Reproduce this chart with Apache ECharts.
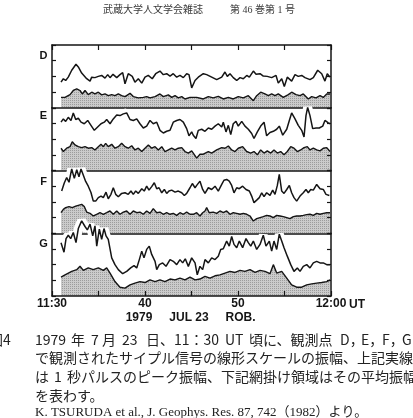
<!DOCTYPE html>
<html><head><meta charset="utf-8">
<script src="https://cdn.jsdelivr.net/npm/echarts@6/dist/echarts.min.js"></script>
<style>html,body{margin:0;padding:0;background:#fff;}#c{width:413px;height:418px;}</style>
</head><body><div id="c"></div>
<script>
// ---- data (time in minutes after 11:30 UT, amplitude in panel units 0-4) ----
const stations = ['D','E','F','G'];
const timeTicks = ['11:30','','40','','50','','12:00'];

const D_peak = [[0.97,1.63],[1.22,1.85],[1.47,1.74],[1.75,1.95],[2.12,2.39],[2.58,2.77],[2.83,2.60],[3.19,2.21],[3.73,1.85],[4.09,1.70],[4.27,1.95],[4.62,1.92],[4.98,2.00],[5.34,2.06],[5.70,1.89],[5.99,2.11],[6.24,1.92],[6.56,2.13],[6.96,1.92],[7.31,2.11],[7.60,2.24],[7.85,1.53],[8.20,2.17],[8.63,2.00],[8.92,1.63],[9.28,1.85],[9.65,1.57],[10.00,1.95],[10.35,2.06],[10.78,1.85],[11.15,2.17],[11.61,2.34],[11.97,2.11],[12.33,2.17],[12.69,2.02],[13.04,2.17],[13.41,1.95],[13.76,2.06],[14.12,1.92],[14.48,2.17],[14.73,2.11],[15.02,1.27],[15.38,1.74],[15.73,1.95],[16.27,2.17],[16.63,2.11],[17.17,1.95],[17.71,1.79],[18.25,1.95],[18.60,2.28],[18.85,2.00],[19.14,2.17],[19.49,1.92],[19.86,1.74],[20.22,1.92],[20.57,1.85],[20.94,2.06],[21.22,1.95],[21.65,2.34],[21.94,2.13],[22.37,2.17],[22.72,2.02],[23.15,2.00],[23.62,1.92],[24.09,2.06],[24.33,1.57],[24.70,1.85],[24.98,1.35],[25.30,1.95],[25.77,1.70],[26.13,2.11],[26.48,2.00],[26.85,2.06],[27.20,1.92],[27.74,1.79],[28.10,1.92],[28.57,2.39],[29.00,2.17],[29.35,1.70],[29.60,2.17],[29.89,1.95]];
const D_mean = [[0.97,0.66],[1.40,0.66],[1.94,0.84],[2.29,1.10],[2.66,1.21],[3.01,1.10],[3.26,0.88],[3.55,1.10],[3.90,0.84],[4.27,0.99],[4.62,0.88],[4.98,0.99],[5.34,0.82],[5.70,0.88],[6.05,0.77],[6.42,0.84],[6.77,0.77],[7.13,0.88],[7.49,0.77],[7.85,0.71],[8.39,0.92],[8.74,0.71],[9.28,0.63],[9.82,0.66],[10.18,0.71],[10.54,0.63],[11.08,0.71],[11.61,0.88],[11.97,0.71],[12.51,0.82],[12.87,0.66],[13.23,0.77],[13.58,0.63],[13.95,0.71],[14.30,0.56],[14.84,0.66],[15.56,0.66],[16.27,0.56],[16.81,0.71],[17.34,0.63],[17.88,0.73],[18.42,0.56],[18.96,0.66],[19.49,0.56],[20.03,0.71],[20.57,0.63],[21.11,0.77],[21.65,0.45],[22.01,0.77],[22.44,0.99],[22.90,0.88],[23.26,0.77],[23.62,0.88],[23.98,0.77],[24.33,0.88],[24.87,0.66],[25.41,0.84],[25.77,0.99],[26.24,0.84],[26.67,0.77],[27.02,0.88],[27.56,0.56],[27.92,0.71],[28.39,0.63],[28.82,0.77],[29.17,0.66],[29.54,0.88],[29.89,0.88]];

const E_peak = [[0.97,3.08],[1.22,3.29],[1.47,3.13],[1.75,3.39],[2.04,3.19],[2.29,3.67],[2.55,3.25],[2.83,3.33],[3.12,3.08],[3.47,2.98],[3.84,3.19],[4.19,2.88],[4.55,2.56],[4.91,2.77],[5.27,2.98],[5.62,3.08],[5.88,3.25],[6.24,2.98],[6.59,3.29],[6.96,3.54],[7.31,3.50],[7.67,3.61],[8.03,3.67],[8.39,3.25],[8.74,3.19],[9.11,3.29],[9.46,2.98],[9.82,2.71],[10.18,2.83],[10.54,3.19],[10.89,2.98],[11.26,3.08],[11.61,2.56],[11.97,2.39],[12.33,2.50],[12.69,2.56],[13.04,3.08],[13.41,3.19],[13.76,3.25],[14.12,3.08],[14.48,2.67],[14.73,2.21],[15.02,2.46],[15.19,2.25],[15.48,2.04],[15.73,2.56],[16.10,2.63],[16.45,2.50],[16.81,2.71],[17.17,2.63],[17.53,2.83],[17.88,2.98],[18.25,2.77],[18.42,3.08],[18.71,2.46],[18.96,2.88],[19.22,2.29],[19.49,2.98],[19.78,3.13],[20.03,2.83],[20.40,3.13],[20.75,2.83],[21.11,2.63],[21.47,2.36],[21.72,2.04],[22.08,2.46],[22.44,2.83],[22.80,3.08],[23.08,2.21],[23.44,2.42],[23.80,2.50],[24.16,2.63],[24.44,2.83],[24.81,2.25],[25.24,2.63],[25.52,3.19],[25.77,3.67],[26.13,3.29],[26.48,2.88],[26.85,2.56],[27.10,2.14],[27.31,3.50],[27.49,4.02],[27.74,3.50],[28.03,2.67],[28.39,2.71],[28.74,2.71],[29.11,2.83],[29.35,3.19],[29.71,3.04],[29.89,2.98]];
const E_mean = [[0.97,1.42],[1.22,1.21],[1.58,1.42],[1.94,1.52],[2.18,1.83],[2.47,1.63],[2.83,1.52],[3.19,1.46],[3.55,1.52],[3.90,1.42],[4.27,1.46],[4.62,1.31],[4.98,1.52],[5.27,1.67],[5.52,1.52],[5.77,1.73],[6.05,1.52],[6.42,1.67],[6.77,1.42],[7.13,1.52],[7.49,1.73],[7.85,1.52],[8.20,1.42],[8.57,1.58],[8.92,1.31],[9.28,1.42],[9.65,1.21],[10.00,1.42],[10.36,1.63],[10.72,1.42],[11.08,1.52],[11.43,1.31],[11.80,1.52],[12.15,1.21],[12.51,1.31],[12.87,1.42],[13.23,1.31],[13.58,1.42],[13.95,1.46],[14.30,1.21],[14.66,1.11],[15.02,1.25],[15.19,1.11],[15.56,0.79],[15.91,1.04],[16.27,1.04],[16.81,1.21],[17.17,1.11],[17.71,1.31],[18.25,1.46],[18.60,1.42],[18.96,1.56],[19.32,1.31],[19.68,1.21],[20.03,1.42],[20.50,1.52],[20.93,1.21],[21.36,1.11],[21.72,1.21],[22.08,1.00],[22.44,1.31],[22.80,1.11],[23.15,1.25],[23.52,1.11],[23.87,1.31],[24.23,1.11],[24.59,1.21],[24.95,1.00],[25.30,1.21],[25.67,1.52],[26.02,1.42],[26.38,1.21],[26.74,1.31],[27.10,1.46],[27.45,1.52],[27.74,1.31],[28.10,1.42],[28.46,1.31],[28.82,1.25],[29.17,1.42],[29.54,1.46],[29.89,1.21]];

const F_peak = [[1.04,2.70],[1.32,3.20],[1.58,3.55],[1.83,3.25],[2.12,4.10],[2.40,3.50],[2.66,4.05],[2.90,3.60],[3.12,4.10],[3.37,3.70],[3.62,3.30],[3.90,3.00],[4.19,2.60],[4.44,2.05],[4.70,2.05],[4.98,2.27],[5.27,2.37],[5.52,2.27],[5.81,2.62],[6.05,2.20],[6.34,2.48],[6.59,2.90],[6.85,2.48],[7.13,2.33],[7.49,2.54],[7.85,2.58],[8.20,2.48],[8.49,2.69],[8.74,2.48],[9.00,2.69],[9.28,2.54],[9.65,2.84],[9.92,2.69],[10.18,3.00],[10.43,2.75],[10.72,2.97],[11.00,3.22],[11.26,2.84],[11.51,2.90],[11.80,2.58],[12.08,2.79],[12.33,2.54],[12.58,2.69],[12.87,2.75],[13.23,2.62],[13.58,2.69],[13.95,2.58],[14.23,2.41],[14.48,2.54],[14.84,2.90],[15.09,3.17],[15.38,2.90],[15.56,3.05],[15.91,3.32],[16.20,2.79],[16.45,2.54],[16.81,2.90],[17.17,2.79],[17.53,3.00],[17.88,2.69],[18.25,3.11],[18.49,3.38],[18.78,3.43],[19.06,3.32],[19.32,3.05],[19.57,2.58],[19.86,2.90],[20.14,2.84],[20.50,3.00],[20.86,2.79],[21.22,2.69],[21.47,2.37],[21.72,1.95],[22.01,2.11],[22.29,2.27],[22.55,2.58],[22.80,2.33],[23.08,2.58],[23.44,2.41],[23.73,2.75],[23.98,2.48],[24.23,3.05],[24.44,3.75],[24.70,2.69],[24.95,2.54],[25.24,2.79],[25.52,3.05],[25.77,2.58],[26.02,2.27],[26.31,2.05],[26.67,2.37],[27.02,2.58],[27.31,2.79],[27.56,2.58],[27.82,2.79],[28.10,2.75],[28.46,3.11],[28.82,2.84],[29.17,2.79],[29.46,2.48],[29.82,2.41]];
const F_mean = [[0.97,1.31],[1.22,1.52],[1.47,1.63],[1.83,1.70],[2.18,1.63],[2.55,1.73],[2.83,1.78],[3.19,1.84],[3.47,1.70],[3.73,1.35],[4.09,1.27],[4.44,1.10],[4.81,1.21],[5.16,1.31],[5.52,1.21],[5.88,1.31],[6.24,1.42],[6.59,1.21],[6.96,1.42],[7.31,1.21],[7.67,1.35],[8.03,1.42],[8.39,1.21],[8.74,1.42],[9.11,1.31],[9.46,1.35],[9.82,1.21],[10.18,1.42],[10.54,1.27],[10.89,1.57],[11.26,1.31],[11.61,1.35],[11.97,1.21],[12.33,1.31],[12.69,1.21],[13.04,1.27],[13.41,1.14],[13.76,1.31],[14.12,1.21],[14.48,1.35],[14.84,1.21],[15.19,1.21],[15.56,1.31],[15.91,1.10],[16.20,1.31],[16.45,1.42],[16.63,1.63],[16.91,1.31],[17.34,1.35],[17.71,1.27],[18.06,1.42],[18.42,1.31],[18.78,1.42],[19.14,1.21],[19.49,1.31],[19.86,1.27],[20.22,1.21],[20.57,1.27],[20.94,1.21],[21.29,1.10],[21.65,0.78],[22.01,0.93],[22.37,1.00],[22.72,1.06],[23.08,1.14],[23.44,1.10],[23.80,1.00],[24.16,1.14],[24.52,1.10],[24.87,1.06],[25.24,1.00],[25.59,0.93],[25.95,1.06],[26.31,1.10],[26.67,1.10],[27.02,1.14],[27.38,1.19],[27.74,1.21],[28.10,1.14],[28.46,1.27],[28.82,1.21],[29.17,1.27],[29.54,1.31],[29.89,1.31]];

const G_peak = [[0.97,3.40],[1.29,2.79],[1.51,3.66],[1.75,3.87],[2.01,3.66],[2.29,4.05],[2.58,3.40],[2.83,4.30],[3.19,4.79],[3.55,4.43],[3.80,4.21],[4.09,4.58],[4.38,3.83],[4.62,4.47],[4.81,3.18],[5.09,4.26],[5.34,3.61],[5.59,4.30],[5.81,3.83],[6.05,3.61],[6.42,2.43],[6.77,2.00],[7.13,1.68],[7.60,1.42],[8.03,1.57],[8.46,1.79],[8.82,1.94],[9.11,1.79],[9.39,2.32],[9.65,2.86],[9.89,2.43],[10.18,2.97],[10.46,3.18],[10.72,2.65],[11.08,2.21],[11.26,1.68],[11.54,2.00],[11.90,2.11],[12.26,1.89],[12.69,2.32],[13.04,2.21],[13.41,2.00],[13.76,2.32],[14.05,2.11],[14.33,2.37],[14.66,1.89],[15.02,2.43],[15.38,2.11],[15.62,1.35],[15.91,1.89],[16.20,1.68],[16.45,2.32],[16.81,2.11],[17.17,2.43],[17.53,2.32],[17.88,2.54],[18.14,2.97],[18.42,3.01],[18.78,3.50],[19.06,3.18],[19.32,3.79],[19.57,3.29],[19.86,3.08],[20.14,3.50],[20.50,3.08],[20.86,3.66],[21.11,3.40],[21.37,3.18],[21.65,3.50],[22.01,2.97],[22.37,3.29],[22.72,3.87],[23.01,3.18],[23.37,3.50],[23.62,2.86],[23.87,3.50],[24.16,2.97],[24.44,3.94],[24.70,3.50],[24.95,3.08],[25.30,2.54],[25.67,2.00],[26.02,1.57],[26.38,1.79],[26.67,1.57],[27.02,1.89],[27.39,2.00],[27.74,1.79],[28.10,2.11],[28.46,2.21],[28.82,2.11],[29.17,2.11],[29.54,2.00],[29.89,2.00]];
const G_mean = [[0.97,1.21],[1.40,1.35],[2.12,1.57],[2.66,1.68],[3.01,1.90],[3.37,1.63],[3.90,1.79],[4.44,1.68],[4.98,1.79],[5.52,1.63],[5.88,1.79],[6.24,1.46],[6.77,0.92],[7.31,0.56],[7.85,0.50],[8.39,0.71],[8.92,0.82],[9.46,0.92],[10.00,0.86],[10.54,1.03],[11.08,0.92],[11.61,1.03],[12.15,0.92],[12.69,1.08],[13.23,1.03],[13.76,1.14],[14.30,1.03],[14.84,1.21],[15.38,1.03],[15.91,1.08],[16.45,1.25],[16.99,1.14],[17.53,1.29],[18.06,1.35],[18.60,1.46],[19.14,1.57],[19.68,1.50],[20.22,1.63],[20.75,1.57],[21.29,1.68],[21.83,1.50],[22.37,1.63],[22.90,1.57],[23.44,1.42],[23.80,2.00],[24.16,1.46],[24.70,1.57],[25.24,1.14],[25.77,0.71],[26.31,0.56],[26.85,0.56],[27.39,0.71],[27.92,0.77],[28.46,0.82],[29.00,0.86],[29.54,0.92],[29.89,1.03]];

// ---- chart ----
const peaks = [D_peak, E_peak, F_peak, G_peak];
const means = [D_mean, E_mean, F_mean, G_mean];
const ink = '#151515';
const TOP = 45, H = 62.75;

// square-grid stipple for the shaded (mean amplitude) regions
const pc = document.createElement('canvas'); pc.width = 2; pc.height = 2;
const pg = pc.getContext('2d');
pg.fillStyle = '#cbcbcb'; pg.fillRect(0,0,2,2);
pg.fillStyle = '#9c9c9c'; pg.fillRect(0,0,1,1);
const shade = {image: pc, repeat: 'repeat'};

const grid = stations.map((s,i)=>({left:52, width:279, top:TOP+i*H, height:H}));
const axLine = {show:true, onZero:false, lineStyle:{color:ink, width:1.5}};
const xAxis = stations.map((s,i)=>({gridIndex:i, type:'value', min:0, max:30, interval:5, position:'bottom', z:3,
  axisLine:axLine,
  axisTick:{show:i===3, inside:true, length:5, lineStyle:{color:ink, width:1.2}},
  axisLabel:{show:i===3, margin:2, color:ink, fontFamily:'Liberation Sans', fontWeight:'bold', fontSize:12,
    showMinLabel:true, showMaxLabel:true, formatter:v=>timeTicks[Math.round(v/5)]||''},
  splitLine:{show:false}}));
xAxis.push({gridIndex:0, type:'value', min:0, max:30, interval:5, position:'top', z:6, axisLine:axLine,
  axisTick:{show:true, inside:true, length:5, lineStyle:{color:ink, width:1.2}}, axisLabel:{show:false}, splitLine:{show:false}});
const yAxis = [];
stations.forEach((s,i)=>{['left','right'].forEach(pos=>yAxis.push({gridIndex:i, type:'value', min:0, max:4, interval:1, position:pos, z:6,
  axisLine:axLine, axisTick:{show:true, inside:true, length:4, lineStyle:{color:ink, width:1.2}}, axisLabel:{show:false}, splitLine:{show:false}}));});

const series = [];
stations.forEach((s,i)=>{
  series.push({name:s+' mean', type:'line', xAxisIndex:i, yAxisIndex:2*i, data:means[i], symbol:'none', z:2, clip:false, silent:true,
    lineStyle:{color:ink, width:1.4}, areaStyle:{color:shade, opacity:1, origin:'start'}});
  if (i>0) series.push({name:s+' halo', type:'line', xAxisIndex:i, yAxisIndex:2*i, data:peaks[i], symbol:'none', z:4, clip:false, silent:true,
    lineStyle:{color:'#ffffff', width:9}});
  series.push({name:s+' peak', type:'line', xAxisIndex:i, yAxisIndex:2*i, data:peaks[i], symbol:'none', z:5, clip:false, silent:true,
    lineStyle:{color:ink, width:1.5}});
});

const CJK = '"Noto Sans CJK JP"';
function T(text, x, y, font, align, fill){
  align = align || 'left';
  return {type:'text', x:x, y:y, silent:true, z:10,
    style:{text:text, font:font, fill:fill||'#222222', textAlign:align, textVerticalAlign:'middle', align:align, verticalAlign:'middle'}};
}
const capF = '14px ' + CJK;
const bold = 'bold 12px "Liberation Sans"';
const elements = [
  T('武蔵大学人文学会雑誌', 103, 10.5, '10px "Liberation Serif", ' + CJK, 'left', '#3a3a3a'),
  T('第 46 巻第 1 号', 230, 10.5, '10px "Liberation Serif", ' + CJK, 'left', '#3a3a3a'),
  T('D', 43.5, 55.5, 'bold 11px "Liberation Sans"', 'center', ink),
  T('E', 43.5, 116, 'bold 11px "Liberation Sans"', 'center', ink),
  T('F', 43.5, 182, 'bold 11px "Liberation Sans"', 'center', ink),
  T('G', 43.5, 243.7, 'bold 11px "Liberation Sans"', 'center', ink),
  T('UT', 349, 304.5, bold, 'left', ink),
  T('1979', 139, 317.5, bold, 'center', ink),
  T('JUL 23', 189, 317.5, bold, 'center', ink),
  T('ROB.', 240.5, 317.5, bold, 'center', ink),
  T('図4', -11, 340, capF),
  T('1979', 35, 340, capF), T('年', 71, 340, capF), T('7', 91, 340, capF), T('月', 102, 340, capF),
  T('23', 122, 340, capF), T('日、', 146, 340, capF), T('11：30', 174, 340, capF), T('UT', 225, 340, capF),
  T('頃に、観測点', 249, 340, capF), T('D，', 340, 340, capF), T('E，', 361, 340, capF), T('F，', 382, 340, capF), T('G', 402, 340, capF),
  T('で観測されたサイプル信号の線形スケールの振幅、上記実線', 35, 358, capF),
  T('は', 35, 377, capF), T('1', 54, 377, capF), T('秒パルスのピーク振幅、下記網掛け領域はその平均振幅', 67, 377, capF),
  T('を表わす。', 35, 395.5, capF),
  T('K. TSURUDA et al., J. Geophys. Res. 87, 742（1982）より。', 35, 412.5, '13px "Liberation Serif", ' + CJK)
];

const chart = echarts.init(document.getElementById('c'), null, {renderer:'canvas'});
chart.setOption({animation:false, backgroundColor:'#ffffff', grid:grid, xAxis:xAxis, yAxis:yAxis, series:series, graphic:{elements:elements}});
</script>
</body></html>
